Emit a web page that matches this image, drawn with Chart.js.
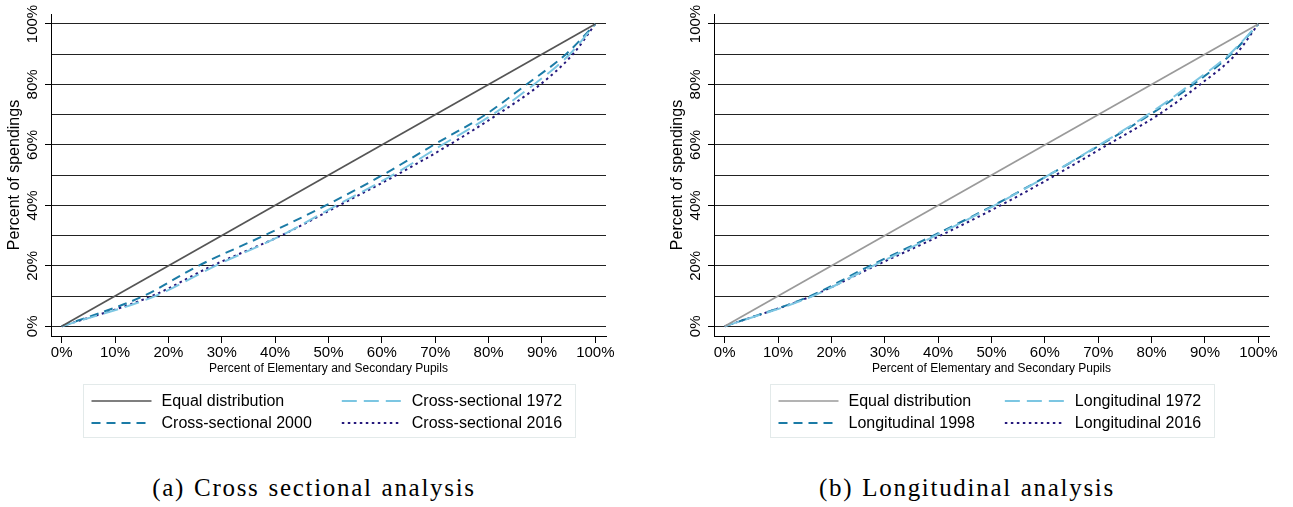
<!DOCTYPE html>
<html><head><meta charset="utf-8">
<script src="https://cdn.jsdelivr.net/npm/chart.js@4.4.1/dist/chart.umd.min.js"></script>
<style>
html,body{margin:0;padding:0;background:#fff;width:1293px;height:507px;overflow:hidden;position:relative}
#c1{position:absolute;left:0;top:0}
#c2{position:absolute;left:663px;top:0}
.cap{position:absolute;top:473px;font-family:"Liberation Serif","DejaVu Serif",serif;font-size:25px;line-height:30px;letter-spacing:1.7px;word-spacing:1px;white-space:nowrap;transform:translateX(-50%);color:#000}
</style></head><body>
<canvas id="c1" width="646" height="450"></canvas>
<canvas id="c2" width="630" height="450"></canvas>
<div class="cap" style="left:314px">(a) Cross sectional analysis</div>
<div class="cap" style="left:967px">(b) Longitudinal analysis</div>
<script>
// ---- data (percent of spendings at each gridline, and the pupil share reached there) ----
const spendShares = [0, 10, 20, 30, 40, 50, 60, 70, 80, 90, 100];
const equalX = [0, 100];
const equalY = [0, 100];
// Cross-sectional panel
const cs1972X = [0, 17.5, 28.8, 41.1, 51.5, 62.0, 71.3, 80.7, 88.5, 95.2, 100];
const cs2000X = [0, 15.3, 25.6, 37.9, 49.5, 60.1, 69.7, 79.4, 87.1, 94.5, 100];
const cs2016X = [0, 16.9, 28.2, 41.1, 52.0, 62.7, 72.6, 81.6, 89.7, 95.8, 100];
// Longitudinal panel
const lg1972X = [0, 16.5, 27.8, 39.5, 50.6, 60.7, 70.2, 79.3, 87.3, 94.6, 100];
const lg1998X = [0, 16.0, 27.2, 39.1, 50.4, 60.7, 70.4, 79.7, 87.8, 94.9, 100];
const lg2016X = [0, 16.3, 28.2, 40.4, 51.7, 62.0, 71.7, 81.3, 89.1, 95.8, 100];
// ticks
const xTickValues = [0, 10, 20, 30, 40, 50, 60, 70, 80, 90, 100];
const yTickValues = [0, 10, 20, 30, 40, 50, 60, 70, 80, 90, 100];
const yLabelEvery = 20;

const SANS = '"Liberation Sans", Arial, Helvetica, sans-serif';
const toPts = (xs, ys) => xs.map((x, i) => ({x: x, y: ys[i]}));

const boxLegend = {
  id: 'boxLegend',
  afterDraw(chart, args, o) {
    const ctx = chart.ctx;
    const ds = chart.data.datasets;
    ctx.save();
    ctx.font = o.font;
    const colTextW = [0, 0];
    ds.forEach((d, i) => { colTextW[i % 2] = Math.max(colTextW[i % 2], ctx.measureText(d.label).width); });
    const colW = colTextW.map(w => o.sample + o.gap + w);
    const boxW = o.padL + colW[0] + o.colGap + colW[1] + o.padR;
    const ca = chart.chartArea;
    const left = Math.round((ca.left + ca.right) / 2 - boxW / 2) + 0.5;
    ctx.strokeStyle = o.borderColor; ctx.lineWidth = 1;
    ctx.strokeRect(left, o.top + 0.5, Math.round(boxW), o.height);
    ds.forEach((d, i) => {
      const col = i % 2, row = Math.floor(i / 2);
      const x0 = left + o.padL + (col ? colW[0] + o.colGap : 0);
      const y = o.top + o.rowY[row];
      ctx.beginPath();
      ctx.setLineDash(d.borderDash || []);
      ctx.strokeStyle = d.borderColor; ctx.lineWidth = d.borderWidth;
      ctx.moveTo(x0, y); ctx.lineTo(x0 + o.sample, y); ctx.stroke();
      ctx.setLineDash([]);
      ctx.fillStyle = '#000'; ctx.textBaseline = 'middle'; ctx.textAlign = 'left';
      ctx.fillText(d.label, x0 + o.sample + o.gap, y + 1);
    });
    ctx.restore();
  }
};

function makeChart(id, rightPad, equalColor, labels, xs) {
  const datasets = [
    {label: labels[0], data: toPts(equalX, equalY), borderColor: equalColor, borderWidth: 1.7, borderDash: []},
    {label: labels[1], data: toPts(xs[0], spendShares), borderColor: '#7cc6e2', borderWidth: 2, borderDash: [15, 7]},
    {label: labels[2], data: toPts(xs[1], spendShares), borderColor: '#1b7ba6', borderWidth: 2, borderDash: [9, 6]},
    {label: labels[3], data: toPts(xs[2], spendShares), borderColor: '#25187c', borderWidth: 2, borderDash: [2.5, 3.5]}
  ].map(d => Object.assign(d, {showLine: true, pointRadius: 0, fill: false, cubicInterpolationMode: 'monotone'}));

  return new Chart(document.getElementById(id), {
    type: 'scatter',
    data: {datasets: datasets},
    plugins: [boxLegend],
    options: {
      responsive: false, animation: false, devicePixelRatio: 1,
      layout: {padding: {left: 0, right: rightPad, top: 14, bottom: 74}},
      plugins: {
        legend: {display: false}, tooltip: {enabled: false},
        boxLegend: {top: 384, height: 53, rowY: [17, 39], padL: 8, padR: 13, sample: 60, gap: 10, colGap: 30,
                    font: '16px ' + SANS, borderColor: '#e3eaea'}
      },
      scales: {
        x: {
          type: 'linear', min: -2, max: 102,
          afterBuildTicks: s => { s.ticks = xTickValues.map(v => ({value: v})); },
          afterFit: s => { s.height = 40; },
          ticks: {callback: v => v + '%', font: {family: SANS, size: 15}, color: '#000', padding: 1, autoSkip: false, maxRotation: 0},
          grid: {drawOnChartArea: false, drawTicks: true, tickLength: 7, color: '#000', lineWidth: 1},
          border: {display: true, color: '#000', width: 1},
          title: {display: true, text: 'Percent of Elementary and Secondary Pupils', font: {family: SANS, size: 12}, color: '#000', padding: {top: 0, bottom: 0}}
        },
        y: {
          type: 'linear', min: -3.2, max: 103.3,
          afterBuildTicks: s => { s.ticks = yTickValues.map(v => ({value: v})); },
          afterFit: s => { s.width = 51; },
          ticks: {callback: v => (v % yLabelEvery === 0 ? v + '%' : ''), font: {family: SANS, size: 15}, color: '#000',
                  minRotation: 90, maxRotation: 90, crossAlign: 'center', padding: -7, autoSkip: false},
          grid: {color: '#222', lineWidth: 1, tickLength: 6,
                 tickColor: c => (c.tick && c.tick.value % yLabelEvery === 0 ? '#000' : 'rgba(0,0,0,0)')},
          border: {display: true, color: '#000', width: 1},
          title: {display: true, text: 'Percent of spendings', font: {family: SANS, size: 16}, color: '#000', padding: {top: 5, bottom: 0}}
        }
      }
    }
  });
}

makeChart('c1', 40, '#555555',
  ['Equal distribution', 'Cross-sectional 1972', 'Cross-sectional 2000', 'Cross-sectional 2016'],
  [cs1972X, cs2000X, cs2016X]);
makeChart('c2', 24, '#9a9a9a',
  ['Equal distribution', 'Longitudinal 1972', 'Longitudinal 1998', 'Longitudinal 2016'],
  [lg1972X, lg1998X, lg2016X]);
</script>
</body></html>
